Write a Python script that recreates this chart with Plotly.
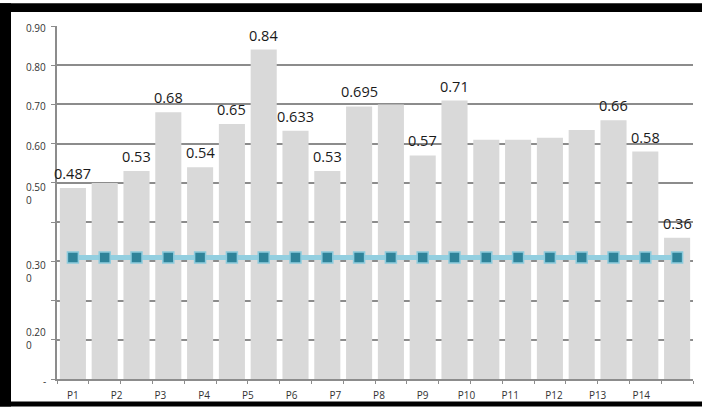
import plotly.graph_objects as go

# ---- data -------------------------------------------------------------
bar_values = [0.487, 0.50, 0.53, 0.68, 0.54, 0.65, 0.84, 0.633, 0.53, 0.695,
              0.70, 0.57, 0.71, 0.61, 0.61, 0.615, 0.635, 0.66, 0.58, 0.36]
bar_labels = ["0.487", "", "0.53", "0.68", "0.54", "0.65", "0.84", "0.633", "0.53", "0.695",
              "", "0.57", "0.71", "", "", "", "", "0.66", "0.58", "0.36"]
reference_values = [0.31, 0.31, 0.31, 0.31, 0.31, 0.31, 0.31, 0.31, 0.31, 0.31,
                    0.31, 0.31, 0.31, 0.31, 0.31, 0.31, 0.31, 0.31, 0.31, 0.31]
category_labels = ["P1", "P2", "P3", "P4", "P5", "P6", "P7",
                   "P8", "P9", "P10", "P11", "P12", "P13", "P14"]
y_tick_text = ["-", "0.20<br>0", "0.30<br>0", "0.50<br>0", "0.60", "0.70", "0.80", "0.90"]
y_tick_vals = [0.0, 0.13, 0.30, 0.50, 0.60, 0.70, 0.80, 0.90]
y_grid_vals = [0.0, 0.1, 0.2, 0.3, 0.4, 0.5, 0.6, 0.7, 0.8, 0.9]

# ---- styling ----------------------------------------------------------
W, H = 703, 412
ML, MR, MT, MB = 57, 10, 26, 28
FONT = "Open Sans"
GRID = "#8c8c8c"
FRAME = "black"

n = len(bar_values)
xs = list(range(n))

fig = go.Figure()

fig.add_trace(go.Bar(
    x=xs, y=bar_values,
    marker=dict(color="#d9d9d9", line=dict(width=0)),
    showlegend=False,
))

fig.add_trace(go.Scatter(
    x=xs, y=reference_values, mode="lines+markers",
    line=dict(color="#93cfe0", width=5),
    marker=dict(symbol="square", size=11, color="#2f8399",
                line=dict(color="#8ccbdd", width=1.5)),
    cliponaxis=False, showlegend=False,
))

# value labels above the bars
for x, v, lab in zip(xs, bar_values, bar_labels):
    if lab:
        fig.add_annotation(
            x=x, y=v, xref="x", yref="y", xanchor="center", yanchor="bottom",
            yshift=3, text=lab, showarrow=False,
            font=dict(family=FONT, size=14.5, color="#1a1a1a"),
        )

# y-axis labels, left-aligned inside their box
for val, txt in zip(y_tick_vals, y_tick_text):
    two_line = "<br>" in txt
    fig.add_annotation(
        x=-(ML - 48) / (W - ML - MR), xref="paper", xanchor="right",
        y=val, yref="y", yanchor="top" if two_line else "middle",
        yshift=5 if two_line else -2,
        text=txt, showarrow=False, align="left",
        font=dict(family=FONT, size=10, color="#333333"),
    )

# black frame on the top, left and bottom edges
pw, ph = W - ML - MR, H - MT - MB
def px_x(p):
    return (p - ML) / pw
def px_y(p):
    return (H - MB - p) / ph
frame = [
    (0, 3, W - 1, 11.7),    # top band
    (0, 3, 11, H),          # left band
    (0, 406.7, W - 1, H),   # bottom band
]
for x0, y0, x1, y1 in frame:
    fig.add_shape(type="rect", xref="paper", yref="paper",
                  x0=px_x(x0), x1=px_x(x1), y0=px_y(y1), y1=px_y(y0),
                  fillcolor=FRAME, line=dict(width=0), layer="above")

fig.update_layout(
    width=W, height=H,
    margin=dict(l=ML, r=MR, t=MT, b=MB, pad=0),
    paper_bgcolor="white", plot_bgcolor="white",
    bargap=0.18,
    font=dict(family=FONT, size=10, color="#333333"),
    xaxis=dict(
        range=[-0.5, n - 0.5], showgrid=False, zeroline=False,
        showline=True, linecolor=GRID, linewidth=1.5,
        tickmode="array",
        tickvals=[i * 1.375 for i in range(len(category_labels))],
        ticktext=category_labels, ticks="", ticklabelstandoff=6,
        tickfont=dict(family=FONT, size=10, color="#333333"),
        minor=dict(tickmode="array", tickvals=[i - 0.5 for i in range(n + 1)],
                   ticks="outside", ticklen=3, tickcolor=GRID, tickwidth=1,
                   showgrid=False),
    ),
    yaxis=dict(
        range=[0, 0.9], showgrid=True, gridcolor=GRID, gridwidth=1.5,
        zeroline=False, showline=True, linecolor=GRID, linewidth=1.5,
        tickmode="array", tickvals=y_grid_vals, showticklabels=False,
        ticks="outside", ticklen=4, tickcolor=GRID, tickwidth=1,
    ),
)

fig.write_html("out.html")
